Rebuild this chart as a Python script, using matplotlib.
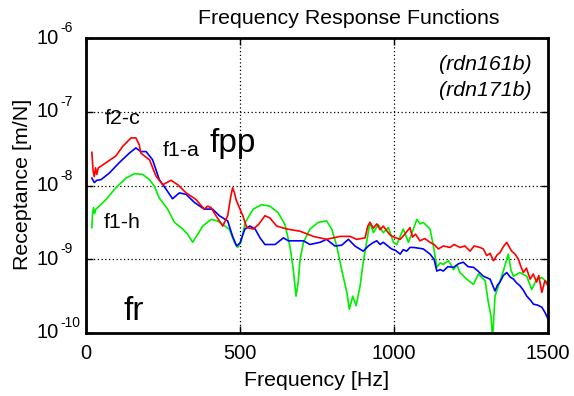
import matplotlib
matplotlib.use("Agg")
import matplotlib.pyplot as plt
import matplotlib.transforms as mtransforms
import numpy as np

plt.rcParams['font.family'] = ['Liberation Sans', 'DejaVu Sans']

# ---- data (frequency in Hz, receptance as log10 of m/N) ----
red_f = [19, 23, 27, 31, 35, 40, 48, 65, 97, 119, 146, 162, 173, 178, 190, 206, 227, 249, 276, 298,
         325, 357, 384, 395, 406, 422, 444, 460, 470, 476, 482, 487, 498, 510, 522, 543, 560, 581, 597,
         619, 652, 695, 738, 781, 825, 857, 879, 906, 915, 922, 933, 944, 955, 965, 987, 1000, 1020,
         1035, 1052, 1060, 1070, 1084, 1100, 1117, 1130, 1144, 1160, 1182, 1195, 1214, 1230, 1247,
         1260, 1279, 1290, 1301, 1312, 1323, 1335, 1344, 1355, 1366, 1375, 1382, 1393, 1404, 1412,
         1420, 1430, 1442, 1452, 1463, 1470, 1480, 1490, 1500]
red_log = [-7.55, -7.80, -7.88, -7.76, -7.85, -7.76, -7.74, -7.69, -7.60, -7.47, -7.355, -7.355, -7.45,
           -7.56, -7.60, -7.65, -7.87, -7.99, -7.93, -7.99, -8.10, -8.19, -8.32, -8.28, -8.30, -8.41,
           -8.55, -8.41, -8.15, -8.03, -8.10, -8.19, -8.30, -8.42, -8.57, -8.59, -8.53, -8.41, -8.44,
           -8.55, -8.59, -8.62, -8.69, -8.73, -8.69, -8.69, -8.73, -8.71, -8.55, -8.50, -8.58, -8.52,
           -8.60, -8.55, -8.67, -8.70, -8.73, -8.66, -8.57, -8.70, -8.66, -8.75, -8.72, -8.77, -8.80,
           -8.86, -8.82, -8.84, -8.80, -8.84, -8.82, -8.89, -8.82, -8.84, -8.86, -8.95, -8.92, -9.02,
           -8.94, -8.91, -8.83, -8.77, -8.84, -8.89, -8.93, -9.00, -9.10, -9.18, -9.12, -9.27, -9.20,
           -9.31, -9.22, -9.45, -9.29, -9.36]

blue_f = [19, 23, 27, 35, 49, 76, 108, 141, 162, 178, 195, 216, 238, 260, 281, 303, 325, 352, 384,
          411, 433, 460, 476, 489, 500, 508, 516, 532, 549, 565, 581, 614, 641, 657, 706, 727, 760,
          781, 808, 830, 852, 873, 900, 917, 930, 944, 955, 965, 980, 992, 1005, 1020, 1030, 1041,
          1052, 1063, 1080, 1095, 1117, 1130, 1139, 1150, 1160, 1175, 1193, 1210, 1225, 1240, 1258,
          1270, 1290, 1312, 1320, 1328, 1336, 1344, 1355, 1366, 1377, 1388, 1398, 1409, 1420, 1431,
          1442, 1453, 1465, 1480, 1490, 1500]
blue_log = [-7.90, -7.93, -7.96, -7.93, -7.92, -7.83, -7.69, -7.56, -7.49, -7.54, -7.54, -7.65, -7.92,
            -8.05, -8.18, -8.10, -8.12, -8.23, -8.32, -8.32, -8.41, -8.48, -8.69, -8.82, -8.78, -8.68,
            -8.59, -8.55, -8.59, -8.71, -8.80, -8.80, -8.71, -8.75, -8.75, -8.80, -8.77, -8.73, -8.82,
            -8.81, -8.73, -8.82, -8.89, -8.82, -8.78, -8.75, -8.80, -8.77, -8.82, -8.86, -8.88, -8.93,
            -8.87, -8.89, -8.84, -8.84, -8.85, -8.86, -8.93, -9.00, -9.16, -9.14, -9.16, -9.10, -9.11,
            -9.06, -9.04, -9.10, -9.11, -9.15, -9.23, -9.27, -9.35, -9.43, -9.35, -9.31, -9.22, -9.18,
            -9.24, -9.27, -9.32, -9.36, -9.42, -9.50, -9.55, -9.61, -9.62, -9.65, -9.72, -9.81]

green_f = [19, 21, 24, 28, 32, 38, 65, 97, 130, 157, 184, 206, 222, 238, 265, 287, 314, 330, 346, 363,
           379, 406, 427, 444, 465, 482, 492, 503, 517, 543, 570, 597, 624, 646, 662, 673, 682, 689,
           695, 706, 727, 754, 781, 798, 814, 830, 847, 855, 866, 877, 890, 900, 911, 922, 933, 949,
           965, 982, 998, 1009, 1030, 1047, 1063, 1074, 1085, 1095, 1117, 1128, 1139, 1150, 1160,
           1177, 1193, 1205, 1214, 1236, 1258, 1274, 1285, 1296, 1306, 1315, 1320, 1328, 1339, 1355,
           1371, 1380, 1388, 1409, 1431, 1447, 1463, 1480, 1496]
green_log = [-8.57, -8.40, -8.30, -8.38, -8.32, -8.30, -8.19, -8.03, -7.90, -7.84, -7.85, -7.92, -8.01,
             -8.17, -8.32, -8.50, -8.59, -8.66, -8.77, -8.66, -8.55, -8.46, -8.48, -8.53, -8.59, -8.77,
             -8.84, -8.77, -8.50, -8.32, -8.26, -8.28, -8.37, -8.53, -8.82, -9.14, -9.50, -9.31, -9.00,
             -8.77, -8.59, -8.50, -8.48, -8.59, -8.82, -9.14, -9.45, -9.68, -9.50, -9.63, -9.36, -9.04,
             -8.77, -8.50, -8.64, -8.53, -8.64, -8.57, -8.77, -8.80, -8.59, -8.77, -8.59, -8.46, -8.52,
             -8.50, -8.59, -8.82, -9.11, -9.05, -9.07, -9.02, -9.14, -9.08, -9.18, -9.27, -9.34, -9.20,
             -9.25, -9.29, -9.58, -9.77, -10.08, -9.50, -9.36, -9.16, -8.93, -9.15, -9.23, -9.18, -9.23,
             -9.41, -9.27, -9.25, -9.31]

x_ticks = [0, 500, 1000, 1500]
y_ticks = [1e-10, 1e-9, 1e-8, 1e-7, 1e-6]
y_tick_exponents = ['-10', '-9', '-8', '-7', '-6']

W, H = 574, 396
fig = plt.figure(figsize=(W / 100, H / 100), dpi=100)
ax = fig.add_axes([86 / W, 1 - 333 / H, (548 - 86) / W, (333 - 38) / H])

ax.plot(green_f, 10 ** np.array(green_log), color='#00ee00', lw=1.2)
ax.plot(blue_f, 10 ** np.array(blue_log), color='#0000ff', lw=1.2)
ax.plot(red_f, 10 ** np.array(red_log), color='#ff0000', lw=1.2)

ax.set_yscale('log')
ax.set_xlim(0, 1500)
ax.set_ylim(1e-10, 1e-6)
ax.set_xticks(x_ticks)
ax.set_xticklabels([str(t) for t in x_ticks])
ax.set_yticks(y_ticks)
ax.set_yticklabels([])
ax.minorticks_off()
ax.tick_params(axis='both', labelsize=14.5, length=5, width=1, direction='in', top=True, right=True)
ax.tick_params(axis='x', pad=8)
ax.grid(True, color='black', linestyle=(0, (1, 2)), linewidth=0.9)
for s in ax.spines.values():
    s.set_linewidth(2)

# y tick labels: "10" with a raised exponent
blend = mtransforms.blended_transform_factory(fig.transFigure, ax.transData)
exp_tr = mtransforms.offset_copy(blend, fig=fig, x=0, y=10, units='dots')
for v, e in zip(y_ticks, y_tick_exponents):
    fig.text(58.5 / W, v, '10', transform=blend, fontsize=14.5, ha='right', va='center')
    fig.text(60 / W, v, e, transform=exp_tr, fontsize=10, ha='left', va='center')

def ft(x, y, s, **kw):
    fig.text(x / W, 1 - y / H, s, **kw)

ft(349, 24, 'Frequency Response Functions', fontsize=15.4, ha='center', va='baseline')
ft(317, 386.5, 'Frequency [Hz]', fontsize=15.4, ha='center', va='baseline')
ft(22.5, 184.5, 'Receptance [m/N]', fontsize=15.4, ha='center', va='center', rotation=90)

ft(105, 118, 'f2-c', fontsize=15.4, va='center')
ft(163, 150, 'f1-a', fontsize=15.4, va='center')
ft(209, 143, 'fpp', fontsize=24, va='center')
ft(104, 223, 'f1-h', fontsize=15.4, va='center')
ft(124, 311, 'fr', fontsize=24, va='center')
ft(532, 64, '(rdn161b)', fontsize=15.4, style='italic', ha='right', va='center')
ft(532, 91, '(rdn171b)', fontsize=15.4, style='italic', ha='right', va='center')

fig.savefig('out.png', dpi=100)
